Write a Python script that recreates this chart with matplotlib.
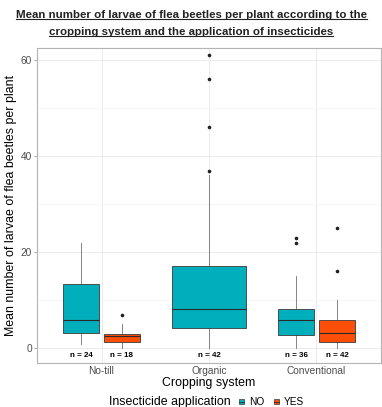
import numpy as np
import matplotlib
matplotlib.use("Agg")
import matplotlib.pyplot as plt
from matplotlib.patches import Patch
from matplotlib.lines import Line2D

plt.rcParams['font.family'] = ['Liberation Sans', 'DejaVu Sans']

# data
systems = ['No-till', 'Organic', 'Conventional']
groups = ['No-till NO', 'No-till YES', 'Organic NO', 'Conventional NO', 'Conventional YES']
group_sys = [0, 0, 1, 2, 2]
group_ins = ['NO', 'YES', 'NO', 'NO', 'YES']
whislo = [1, 0, 0, 0, 0]
q1 = [3.1, 1.25, 4.3, 2.7, 1.25]
med = [6.0, 2.5, 8.1, 6.0, 3.1]
q3 = [13.3, 3.0, 17.2, 8.1, 5.8]
whishi = [22, 5, 36, 15, 10]
fliers = [[], [7], [37, 46, 56, 61], [22, 23], [16, 25]]
n_obs = [24, 18, 42, 36, 42]
colors = {'NO': '#00AFBB', 'YES': '#FC4E07'}

fig = plt.figure(figsize=(3.82, 4.07), dpi=100)
ax = fig.add_axes([37/382, 1-363/407, 344/382, (363-48)/407])

# dodge positions
offsets = {0: [-0.19, 0.19], 1: [0.0], 2: [-0.19, 0.19]}
count = {0: 0, 1: 0, 2: 0}
positions, widths = [], []
for s in group_sys:
    positions.append(s + 1 + offsets[s][count[s]])
    widths.append(0.68 if s == 1 else 0.34)
    count[s] += 1

stats = []
for i in range(len(groups)):
    stats.append(dict(med=med[i], q1=q1[i], q3=q3[i], whislo=whislo[i],
                      whishi=whishi[i], fliers=fliers[i], label=groups[i]))

bp = ax.bxp(stats, positions=positions, widths=widths, patch_artist=True,
            showfliers=True, manage_ticks=False,
            boxprops=dict(edgecolor='#3a3a3a', linewidth=0.6),
            medianprops=dict(color='#2a2a2a', linewidth=0.8),
            whiskerprops=dict(color='#707070', linewidth=0.6),
            capprops=dict(linewidth=0),
            flierprops=dict(marker='o', markersize=1.6, markerfacecolor='#222222',
                            markeredgecolor='#222222'))
for patch, ins in zip(bp['boxes'], group_ins):
    patch.set_facecolor(colors[ins])
    patch.set_zorder(3)
for ln in bp['medians']:
    ln.set_zorder(4)

for p, n in zip(positions, n_obs):
    ax.text(p, -1.5, f'n = {n}', ha='center', va='center', fontsize=5.8,
            fontweight='bold')

ax.set_xlim(0.4, 3.6)
ax.set_ylim(-3.05, 62.5)
ax.set_xticks([1, 2, 3])
ax.set_xticklabels(systems)
ax.set_yticks([0, 20, 40, 60])
ax.set_yticks([10, 30, 50], minor=True)
ax.tick_params(axis='y', labelsize=7.3, labelcolor='#4d4d4d', color='#b3b3b3', length=2.5, pad=1)
ax.tick_params(axis='x', labelsize=7.3, labelcolor='#4d4d4d', length=0, pad=2)
ax.tick_params(which='minor', length=0)
ax.grid(True, which='major', color='#ebebeb', linewidth=0.7)
ax.grid(True, which='minor', axis='y', color='#f3f3f3', linewidth=0.5)
ax.set_axisbelow(True)
for sp in ax.spines.values():
    sp.set_color('#b3b3b3')
    sp.set_linewidth(0.8)

ax.set_xlabel('Cropping system', fontsize=8.9, labelpad=1)
ax.set_ylabel('Mean number of larvae of flea beetles per plant', fontsize=8.9, labelpad=3)

# title with underline
t1 = fig.text(0.5, 1-15/407, 'Mean number of larvae of flea beetles per plant according to the',
              ha='center', va='center', fontsize=8.25, fontweight='bold', color='#222222')
t2 = fig.text(0.5, 1-32/407, 'cropping system and the application of insecticides',
              ha='center', va='center', fontsize=8.25, fontweight='bold', color='#222222')
fig.canvas.draw()
for t in (t1, t2):
    bb = t.get_window_extent().transformed(fig.transFigure.inverted())
    fig.add_artist(Line2D([bb.x0, bb.x1], [bb.y0 + 0.003, bb.y0 + 0.003],
                          transform=fig.transFigure, color='#222222', linewidth=0.8))

# legend at bottom
fig.text(231/382, 1-402/407, 'Insecticide application', ha='right', va='center', fontsize=8.9)
handles = [(Patch(facecolor=colors['NO'], edgecolor='#3a3a3a', linewidth=0.5),
            Line2D([], [], color='#2a2a2a', linewidth=0.6)),
           (Patch(facecolor=colors['YES'], edgecolor='#3a3a3a', linewidth=0.5),
            Line2D([], [], color='#2a2a2a', linewidth=0.6))]
fig.legend(handles, ['NO', 'YES'], loc='center left', bbox_to_anchor=(239/382, 1-402/407),
           ncol=2, frameon=False, fontsize=7.3, handlelength=0.5, handleheight=0.5,
           handletextpad=0.5, columnspacing=0.9, borderpad=0, borderaxespad=0)

fig.savefig('out.png', dpi=100)
